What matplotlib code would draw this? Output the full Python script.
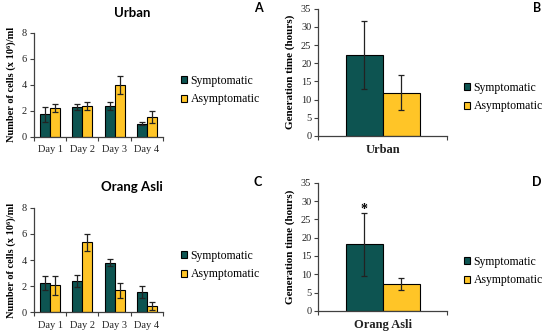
import numpy as np
import matplotlib
matplotlib.use("Agg")
import matplotlib.pyplot as plt
from matplotlib.patches import Patch

days = ["Day 1", "Day 2", "Day 3", "Day 4"]

# panel A - Urban, cell counts
urban_sym = [1.73, 2.32, 2.38, 1.03]
urban_sym_err = [0.6, 0.25, 0.33, 0.13]
urban_asym = [2.23, 2.38, 3.97, 1.54]
urban_asym_err = [0.32, 0.32, 0.7, 0.46]

# panel C - Orang Asli, cell counts
orang_sym = [2.22, 2.37, 3.8, 1.55]
orang_sym_err = [0.54, 0.45, 0.28, 0.44]
orang_asym = [2.08, 5.35, 1.68, 0.5]
orang_asym_err = [0.73, 0.66, 0.57, 0.3]

# panels B and D - generation time
gen_sym = [22.3, 18.2]
gen_sym_err = [9.3, 8.6]
gen_asym = [11.9, 7.35]
gen_asym_err = [4.9, 1.75]
gen_groups = ["Urban", "Orang Asli"]

teal = "#0d5451"
gold = "#ffc527"
serif = ["Liberation Serif", "DejaVu Serif"]
sans = ["Lato", "DejaVu Sans"]

fig = plt.figure(figsize=(5.5, 3.34), dpi=100)


def style_axes(ax):
    for s in ["top", "right"]:
        ax.spines[s].set_visible(False)
    for s in ["left", "bottom"]:
        ax.spines[s].set_color("#404040")
        ax.spines[s].set_linewidth(0.9)
    ax.tick_params(axis="y", direction="out", length=3, width=0.8,
                   labelsize=7.5, colors="#404040", labelcolor="#222222", pad=2)
    ax.tick_params(axis="x", which="major", length=0, labelsize=7.5,
                   labelcolor="#222222", pad=6)
    ax.tick_params(axis="x", which="minor", direction="out", length=3,
                   width=0.8, colors="#404040")
    for lab in ax.get_xticklabels() + ax.get_yticklabels():
        lab.set_family(serif)


def add_legend(ax, x, y):
    handles = [Patch(facecolor=teal, edgecolor="black", linewidth=0.8),
               Patch(facecolor=gold, edgecolor="black", linewidth=0.8)]
    fig.legend(handles, ["Symptomatic", "Asymptomatic"], loc="upper left",
               bbox_to_anchor=(x, y), frameon=False,
               prop={"family": serif, "size": 8.5},
               handlelength=0.55, handleheight=0.55, handletextpad=0.25,
               labelspacing=0.55, borderaxespad=0, borderpad=0)


def day_panel(rect, sym, sym_err, asym, asym_err, title, title_y, letter, letter_y, leg_y):
    ax = fig.add_axes(rect)
    x = np.arange(len(days))
    w = 0.31
    ekw = dict(ecolor="#222222", elinewidth=0.9, capsize=2.5, capthick=0.9)
    ax.bar(x - w / 2, sym, w, yerr=sym_err, color=teal, edgecolor="black",
           linewidth=0.8, error_kw=ekw)
    ax.bar(x + w / 2, asym, w, yerr=asym_err, color=gold, edgecolor="black",
           linewidth=0.8, error_kw=ekw)
    ax.set_xlim(-0.5, len(days) - 0.5)
    ax.set_ylim(0, 8)
    ax.set_yticks([0, 2, 4, 6, 8])
    ax.set_xticks(x)
    ax.set_xticklabels(days)
    ax.set_xticks(np.arange(-0.5, len(days), 1.0), minor=True)
    ax.set_ylabel("Number of cells (x 10⁶)/ml", family=serif,
                  fontweight="bold", fontsize=7.5, labelpad=4)
    style_axes(ax)
    fig.text(132 / 550, 1 - title_y / 334, title, family=sans,
             fontweight="bold", fontsize=9.5, ha="center", va="center")
    fig.text(258 / 550, 1 - letter_y / 334, letter, family=sans,
             fontweight="bold", fontsize=9, ha="center", va="center")
    add_legend(ax, 181 / 550, leg_y)
    return ax


def gen_panel(rect, i, letter, letter_y, leg_y, star=False):
    ax = fig.add_axes(rect)
    w = 0.287
    ekw = dict(ecolor="#222222", elinewidth=0.9, capsize=2.5, capthick=0.9)
    ax.bar([-w / 2], [gen_sym[i]], w, yerr=[gen_sym_err[i]], color=teal,
           edgecolor="black", linewidth=0.8, error_kw=ekw)
    ax.bar([w / 2], [gen_asym[i]], w, yerr=[gen_asym_err[i]], color=gold,
           edgecolor="black", linewidth=0.8, error_kw=ekw)
    if star:
        ax.text(-w / 2, 26.6, "*", ha="center", va="baseline",
                fontsize=10, fontweight="bold", family=serif)
    ax.set_xlim(-0.5, 0.5)
    ax.set_ylim(0, 35)
    ax.set_yticks(range(0, 36, 5))
    ax.set_xticks([0])
    ax.set_xticklabels([gen_groups[i]])
    ax.set_xticks([-0.5, 0.5], minor=True)
    ax.set_ylabel("Generation time (hours)", family=serif,
                  fontweight="bold", fontsize=8, labelpad=4)
    style_axes(ax)
    for lab in ax.get_xticklabels():
        lab.set_fontweight("bold")
        lab.set_fontsize(9)
    fig.text(537 / 550, 1 - letter_y / 334, letter, family=sans,
             fontweight="bold", fontsize=9, ha="center", va="center")
    add_legend(ax, 464 / 550, leg_y)
    return ax


day_panel([0.0618, 0.590, 0.2345, 0.3114], urban_sym, urban_sym_err,
          urban_asym, urban_asym_err, "Urban", 13, "A", 8.5, 1 - 75 / 334)
day_panel([0.0618, 0.065, 0.2345, 0.313], orang_sym, orang_sym_err,
          orang_asym, orang_asym_err, "Orang Asli", 187, "C", 182, 1 - 250 / 334)
gen_panel([0.5787, 0.593, 0.2345, 0.381], 0, "B", 8.5, 1 - 82 / 334)
gen_panel([0.5787, 0.069, 0.2345, 0.384], 1, "D", 182, 1 - 256 / 334, star=True)

fig.savefig("out.png", dpi=100)
